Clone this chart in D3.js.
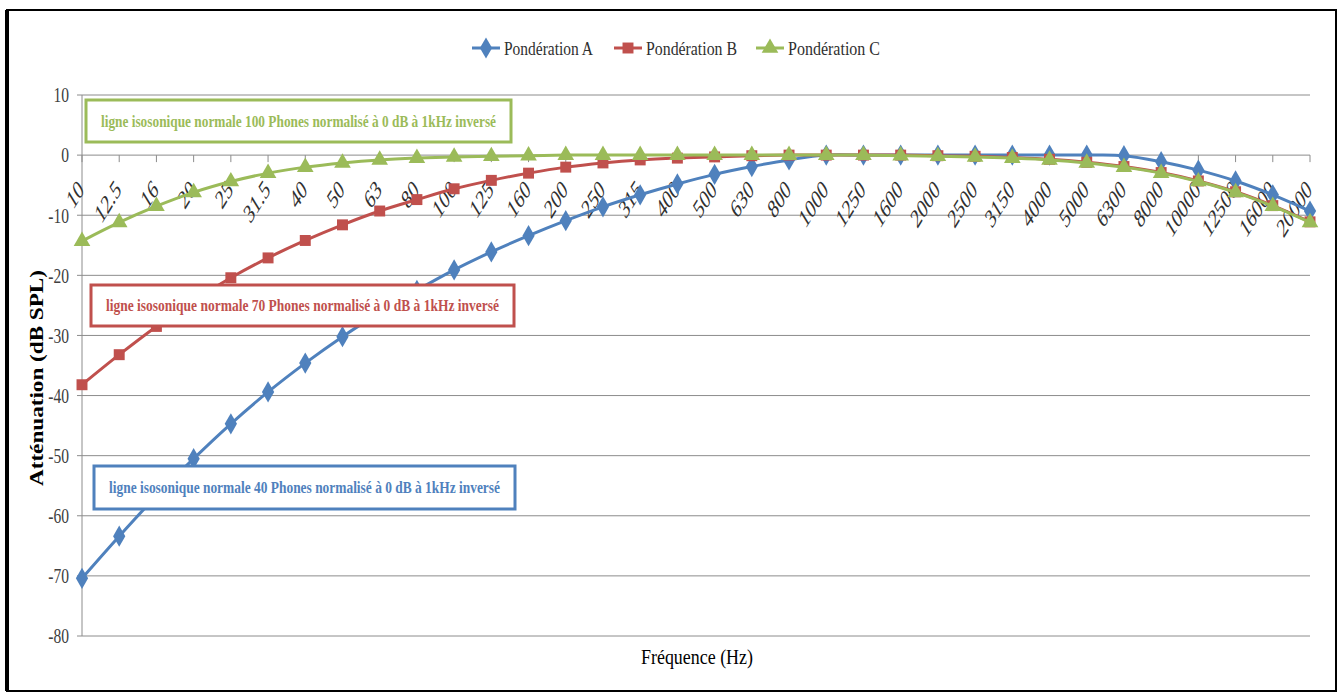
<!DOCTYPE html>
<html><head><meta charset="utf-8">
<script src="https://cdn.jsdelivr.net/npm/d3@7"></script>
<style>body{margin:0;background:#fff;}svg{display:block;}</style>
</head><body><svg id="c" width="1342" height="693"></svg>
<script>
const categories = ["10","12.5","16","20","25","31.5","40","50","63","80","100","125","160","200","250","315","400","500","630","800","1000","1250","1600","2000","2500","3150","4000","5000","6300","8000","10000","12500","16000","20000"];
const seriesNames = ["Pondération A","Pondération B","Pondération C"];
const valuesA = [-70.4,-63.4,-56.7,-50.5,-44.7,-39.4,-34.6,-30.2,-26.2,-22.5,-19.1,-16.1,-13.4,-10.9,-8.6,-6.6,-4.8,-3.2,-1.9,-0.8,0,0,0,0,0,0,0,0,-0.1,-1.1,-2.5,-4.3,-6.6,-9.3];
const valuesB = [-38.2,-33.2,-28.5,-24.2,-20.4,-17.1,-14.2,-11.6,-9.3,-7.4,-5.6,-4.2,-3.0,-2.0,-1.3,-0.8,-0.5,-0.3,-0.1,0,0,0,0,-0.1,-0.2,-0.4,-0.7,-1.2,-1.9,-2.9,-4.3,-6.1,-8.4,-11.1];
const valuesC = [-14.3,-11.2,-8.5,-6.2,-4.4,-3.0,-2.0,-1.3,-0.8,-0.5,-0.3,-0.2,-0.1,0,0,0,0,0,0,0,0,0,-0.1,-0.2,-0.3,-0.5,-0.8,-1.3,-2.0,-3.0,-4.4,-6.2,-8.5,-11.2];
const yTicks = [10,0,-10,-20,-30,-40,-50,-60,-70,-80];
const annotations = [
  {text:"ligne isosonique normale 100 Phones normalisé à 0 dB à 1kHz inversé", color:"#9bbb59"},
  {text:"ligne isosonique normale 70 Phones normalisé à 0 dB à 1kHz inversé", color:"#c0504d"},
  {text:"ligne isosonique normale 40 Phones normalisé à 0 dB à 1kHz inversé", color:"#4f81bd"}
];
const annotationBoxes = [{x:86,y:100,w:425,h:42},{x:91,y:285,w:423,h:41},{x:94,y:466,w:421,h:43}];

const colors = ["#4f81bd","#c0504d","#9bbb59"];
const symbols = [d3.symbolDiamond, d3.symbolSquare, d3.symbolTriangle];
const symSizes = [130, 120, 120];
const FONT = "'Liberation Serif', 'DejaVu Serif', serif";

const svg = d3.select("#c");
svg.append("rect").attr("x",0).attr("y",0).attr("width",1342).attr("height",693).attr("fill","#fff");
// frame
svg.append("rect").attr("x",7).attr("y",10).attr("width",1329).attr("height",681)
  .attr("fill","none").attr("stroke","#000").attr("stroke-width",2);
svg.append("line").attr("x1",7).attr("x2",7).attr("y1",10).attr("y2",691).attr("stroke","#000").attr("stroke-width",4);

const pLeft = 82, pRight = 1310, pTop = 95, pBottom = 636;
const x = d3.scalePoint().domain(categories).range([pLeft,pRight]);
const y = d3.scaleLinear().domain([-80,10]).range([pBottom,pTop]);

// gridlines
svg.append("g").selectAll("line").data(yTicks).join("line")
  .attr("x1",pLeft-5).attr("x2",pRight).attr("y1",d=>y(d)).attr("y2",d=>y(d))
  .attr("stroke","#8c8c8c").attr("stroke-width",1);
// y axis line
svg.append("line").attr("x1",pLeft).attr("x2",pLeft).attr("y1",pTop).attr("y2",pBottom).attr("stroke","#8c8c8c");
// y tick labels
svg.append("g").selectAll("text").data(yTicks).join("text")
  .attr("dy","0.35em").attr("text-anchor","end")
  .attr("font-family",FONT).attr("font-size",21).attr("fill","#404040")
  .attr("transform",d=>`translate(${pLeft-13},${y(d)}) scale(0.74,1)`)
  .text(d=>d);

// x axis at 0
svg.append("g").selectAll("line").data(categories).join("line")
  .attr("x1",d=>x(d)).attr("x2",d=>x(d)).attr("y1",y(0)).attr("y2",y(0)+7).attr("stroke","#8c8c8c");
svg.append("g").selectAll("text").data(categories).join("text")
  .attr("text-anchor","end").attr("font-family",FONT).attr("font-size",27).attr("fill","#303030")
  .attr("transform",d=>`translate(${x(d)+3},${y(0)+36}) scale(0.62,1) rotate(-45)`)
  .text(d=>d);

// lines
const series = [valuesA, valuesB, valuesC];
const line = d3.line().x((d,i)=>x(categories[i])).y(d=>y(d)).curve(d3.curveCatmullRom);
series.forEach((vals,k)=>{
  const g = svg.append("g");
  g.append("path").datum(vals).attr("d",line).attr("fill","none").attr("stroke",colors[k]).attr("stroke-width",3);
  g.selectAll("path.m").data(vals).join("path").attr("class","m")
    .attr("d",d3.symbol().type(symbols[k]).size(symSizes[k]))
    .attr("transform",(d,i)=>`translate(${x(categories[i])},${y(d)})`)
    .attr("fill",colors[k]);
});

// annotation boxes
annotations.forEach((a,i)=>{
  const b = annotationBoxes[i];
  svg.append("rect").attr("x",b.x).attr("y",b.y).attr("width",b.w).attr("height",b.h)
    .attr("fill","#fff").attr("stroke",a.color).attr("stroke-width",3);
  svg.append("text").attr("x",b.x+b.w/2).attr("y",b.y+b.h/2).attr("dy","0.35em")
    .attr("text-anchor","middle").attr("font-family",FONT).attr("font-weight","bold")
    .attr("font-size",17).attr("fill",a.color)
    .attr("textLength",b.w-30).attr("lengthAdjust","spacingAndGlyphs")
    .text(a.text);
});

// legend
const legendX = [472, 614, 756];
seriesNames.forEach((n,k)=>{
  const lx = legendX[k], ly = 48;
  svg.append("line").attr("x1",lx).attr("x2",lx+28).attr("y1",ly).attr("y2",ly).attr("stroke",colors[k]).attr("stroke-width",3);
  svg.append("path").attr("d",d3.symbol().type(symbols[k]).size(symSizes[k])()).attr("transform",`translate(${lx+14},${ly})`).attr("fill",colors[k]);
  svg.append("text").attr("x",lx+32).attr("y",ly).attr("dy","0.35em").attr("font-family",FONT).attr("font-size",19)
    .attr("fill","#303030").attr("textLength",[89,91,92][k]).attr("lengthAdjust","spacingAndGlyphs").text(n);
});

// axis titles
svg.append("text").attr("x",697).attr("y",657).attr("dy","0.35em").attr("text-anchor","middle")
  .attr("font-family",FONT).attr("font-size",20).attr("fill","#000")
  .attr("textLength",112).attr("lengthAdjust","spacingAndGlyphs").text("Fréquence (Hz)");
svg.append("text").attr("transform","translate(37,378) rotate(-90)").attr("dy","0.35em").attr("text-anchor","middle")
  .attr("font-family",FONT).attr("font-size",18).attr("font-weight","bold").attr("fill","#000")
  .attr("textLength",216).attr("lengthAdjust","spacingAndGlyphs").text("Atténuation (dB SPL)");
</script></body></html>
